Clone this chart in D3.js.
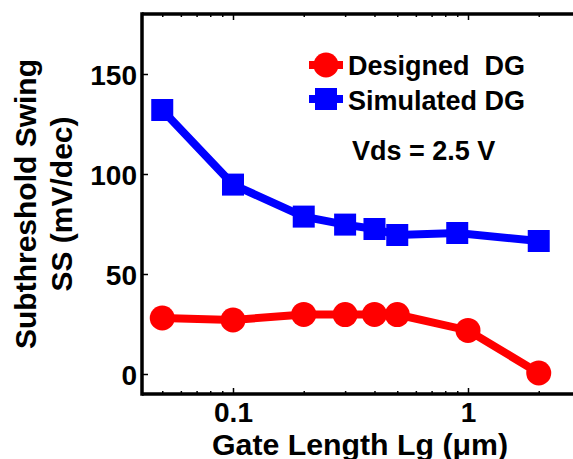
<!DOCTYPE html>
<html>
<head>
<meta charset="utf-8">
<script src="https://cdn.jsdelivr.net/npm/d3@7"></script>
<style>
  body { margin: 0; background: #fff; }
  svg text { font-family: "Liberation Sans", Arial, sans-serif; font-weight: bold; fill: #000; }
</style>
</head>
<body>
<svg id="chart"></svg>
<script>
// data
var gateLenSim = [0.05, 0.1, 0.2, 0.3, 0.4, 0.5, 0.9, 2];
var ssSimulated = [132, 94.7, 78.7, 74.7, 72.5, 69.5, 70.5, 66.5];
var gateLenDes = [0.05, 0.1, 0.2, 0.3, 0.4, 0.5, 1, 2];
var ssDesigned = [28, 27, 29.8, 29.7, 29.8, 29.7, 21.8, 0.5];
var yTicks = [0, 50, 100, 150];
var xMajor = [0.1, 1];
var xMinor = [0.05, 0.06, 0.07, 0.08, 0.09, 0.2, 0.3, 0.4, 0.5, 0.6, 0.7, 0.8, 0.9, 2, 3];
var seriesNames = ["Designed  DG", "Simulated DG"];

var width = 573, height = 459;
var plotLeft = 142, plotTop = 14, plotBottom = 394;
var decade = 235; // px per decade

var svg = d3.select("#chart").attr("width", width).attr("height", height);

var xMin = 0.041, xMax = 3;
var x = d3.scaleLog()
  .domain([xMin, xMax])
  .range([plotLeft, plotLeft + decade * Math.log10(xMax / xMin)]);
var y = d3.scaleLinear().domain([-10, 180]).range([plotBottom, plotTop]);

// axes (ticks point inward)
function styleAxis(g) {
  g.select(".domain").remove();
  g.selectAll(".tick line").attr("stroke", "#000").attr("stroke-width", 1.5);
  g.selectAll(".tick text").style("font-size", "28px");
}

svg.append("g")
  .attr("transform", "translate(0," + plotBottom + ")")
  .call(d3.axisBottom(x).tickValues(xMajor).tickSizeInner(-6)
    .tickFormat(function (d) { return d === 1 ? "1" : "0.1"; }))
  .call(styleAxis)
  .selectAll(".tick text").attr("y", 8).attr("dy", "0.71em");

svg.append("g")
  .attr("transform", "translate(0," + plotBottom + ")")
  .call(d3.axisBottom(x).tickValues(xMinor).tickSizeInner(-3).tickFormat(""))
  .call(styleAxis);

svg.append("g")
  .attr("transform", "translate(0," + plotTop + ")")
  .call(d3.axisTop(x).tickValues(xMajor).tickSizeInner(-6).tickFormat(""))
  .call(styleAxis);

svg.append("g")
  .attr("transform", "translate(0," + plotTop + ")")
  .call(d3.axisTop(x).tickValues(xMinor).tickSizeInner(-3).tickFormat(""))
  .call(styleAxis);

svg.append("g")
  .attr("transform", "translate(" + plotLeft + ",0)")
  .call(d3.axisLeft(y).tickValues(yTicks).tickSizeInner(-6))
  .call(styleAxis)
  .selectAll(".tick text").attr("x", -5).attr("dy", "0.36em");

// frame lines
svg.append("line").attr("x1", plotLeft).attr("x2", plotLeft).attr("y1", plotTop - 1.75).attr("y2", plotBottom + 1.75)
  .attr("stroke", "#000").attr("stroke-width", 3.5);
svg.append("line").attr("x1", plotLeft).attr("x2", width).attr("y1", plotTop).attr("y2", plotTop)
  .attr("stroke", "#000").attr("stroke-width", 3.5);
svg.append("line").attr("x1", plotLeft).attr("x2", width).attr("y1", plotBottom).attr("y2", plotBottom)
  .attr("stroke", "#000").attr("stroke-width", 3.5);

var line = d3.line().x(function (d) { return x(d[0]); }).y(function (d) { return y(d[1]); });

// simulated (blue squares)
var simPts = d3.zip(gateLenSim, ssSimulated);
svg.append("path").datum(simPts).attr("d", line)
  .attr("fill", "none").attr("stroke", "#0000ff").attr("stroke-width", 8);
svg.selectAll(".sq").data(simPts).enter().append("rect")
  .attr("class", "sq")
  .attr("x", function (d) { return x(d[0]) - 11; })
  .attr("y", function (d) { return y(d[1]) - 11; })
  .attr("width", 22).attr("height", 22)
  .attr("fill", "#0000ff");

// designed (red circles)
var desPts = d3.zip(gateLenDes, ssDesigned);
svg.append("path").datum(desPts).attr("d", line)
  .attr("fill", "none").attr("stroke", "#ff0000").attr("stroke-width", 8);
svg.selectAll(".dot").data(desPts).enter().append("circle")
  .attr("class", "dot")
  .attr("cx", function (d) { return x(d[0]); })
  .attr("cy", function (d) { return y(d[1]); })
  .attr("r", 12.5)
  .attr("fill", "#ff0000");

// legend
var legend = svg.append("g").attr("transform", "translate(309,0)");
legend.append("line").attr("x1", 0).attr("x2", 34).attr("y1", 65).attr("y2", 65)
  .attr("stroke", "#ff0000").attr("stroke-width", 8);
legend.append("circle").attr("cx", 17).attr("cy", 65).attr("r", 12.5).attr("fill", "#ff0000");
legend.append("line").attr("x1", 0).attr("x2", 34).attr("y1", 99).attr("y2", 99)
  .attr("stroke", "#0000ff").attr("stroke-width", 8);
legend.append("rect").attr("x", 6).attr("y", 88).attr("width", 22).attr("height", 22).attr("fill", "#0000ff");
legend.selectAll(".lab").data(seriesNames).enter().append("text")
  .attr("class", "lab")
  .attr("x", 39)
  .attr("y", function (d, i) { return 75 + i * 35; })
  .style("font-size", "27px")
  .style("white-space", "pre")
  .text(function (d) { return d; });

svg.append("text").attr("x", 352).attr("y", 160)
  .style("font-size", "27px")
  .text("Vds = 2.5 V");

// axis titles
svg.append("text")
  .attr("x", 212).attr("y", 455)
  .style("font-size", "29px")
  .attr("textLength", 296).attr("lengthAdjust", "spacingAndGlyphs")
  .text("Gate Length Lg (\u03bcm)");

var yTitle = svg.append("text")
  .attr("transform", "translate(0,204) rotate(-90)")
  .attr("text-anchor", "middle")
  .style("font-size", "30px");
yTitle.append("tspan").attr("x", 0).attr("y", 36).text("Subthreshold Swing");
yTitle.append("tspan").attr("x", 0).attr("y", 72).text("SS (mV/dec)");
</script>
</body>
</html>
